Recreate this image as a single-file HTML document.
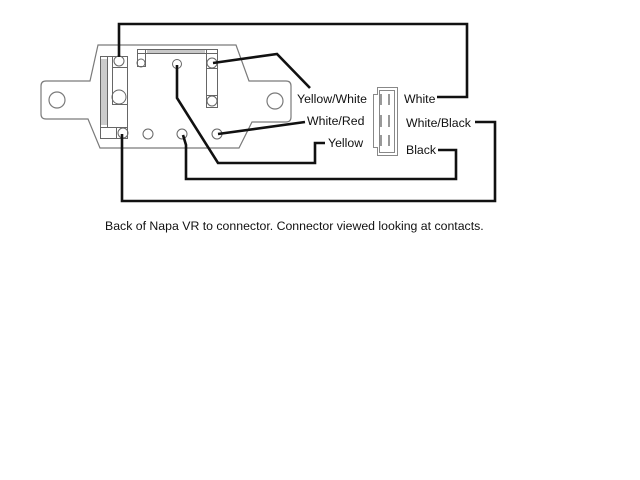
<!DOCTYPE html>
<html><head><meta charset="utf-8"><style>
html,body{margin:0;padding:0;background:#fff;}
svg{display:block;}
text{font-family:"Liberation Sans",Arial,sans-serif;font-size:12.3px;fill:#111;}
</style></head><body>
<svg width="640" height="480" viewBox="0 0 640 480" xmlns="http://www.w3.org/2000/svg">
<rect width="640" height="480" fill="#fff"/>
<!-- plate outline -->
<g fill="none" stroke="#7a7a7a" stroke-width="1.2">
<path d="M98,45 H236 L249,81 H286 Q291,81 291,86 V117 Q291,122 286,122 H252 L239,148 H100 L88,119 H46 Q41,119 41,114 V86 Q41,81 46,81 H90 Z"/>
<circle cx="57" cy="100" r="8"/>
<circle cx="275" cy="101" r="8"/>
</g>
<!-- internal components -->
<g fill="none" stroke="#666" stroke-width="1">
<rect x="100.5" y="56.5" width="27" height="82"/>
<line x1="107.5" y1="56" x2="107.5" y2="127"/>
<rect x="112.5" y="56.5" width="15" height="48"/>
<line x1="112" y1="67.5" x2="128" y2="67.5"/>
<line x1="100" y1="127.5" x2="128" y2="127.5"/>
<line x1="116.5" y1="127" x2="116.5" y2="139"/>
<circle cx="119" cy="61" r="5"/>
<circle cx="119" cy="97" r="7"/>
<circle cx="123" cy="133" r="5"/>
<rect x="137.5" y="49.5" width="80" height="4"/>
<rect x="137.5" y="49.5" width="8" height="17"/>
<circle cx="141" cy="63" r="4"/>
<rect x="206.5" y="49.5" width="11" height="58"/>
<line x1="206" y1="68.5" x2="218" y2="68.5"/>
<line x1="206" y1="95.5" x2="218" y2="95.5"/>
<circle cx="212" cy="63" r="5"/>
<circle cx="212" cy="101" r="5"/>
<circle cx="177" cy="64" r="4.5"/>
<circle cx="148" cy="134" r="5"/>
<circle cx="182" cy="134" r="5"/>
<circle cx="217" cy="134" r="5"/>
</g>
<!-- hatching -->
<g stroke="#777" stroke-width="0.8">
<path d="M101,60H107M101,62H107M101,64H107M101,66H107M101,68H107M101,70H107M101,72H107M101,74H107M101,76H107M101,78H107M101,80H107M101,82H107M101,84H107M101,86H107M101,88H107M101,90H107M101,92H107M101,94H107M101,96H107M101,98H107M101,100H107M101,102H107M101,104H107M101,106H107M101,108H107M101,110H107M101,112H107M101,114H107M101,116H107M101,118H107M101,120H107M101,122H107M101,124H107"/>
<path d="M148,50V53M150,50V53M152,50V53M154,50V53M156,50V53M158,50V53M160,50V53M162,50V53M164,50V53M166,50V53M168,50V53M170,50V53M172,50V53M174,50V53M176,50V53M178,50V53M180,50V53M182,50V53M184,50V53M186,50V53M188,50V53M190,50V53M192,50V53M194,50V53M196,50V53M198,50V53M200,50V53M202,50V53M204,50V53"/>
</g>
<!-- connector -->
<g fill="none" stroke="#888" stroke-width="1">
<path d="M377.5,87.5 H397.5 V155.5 H377.5 V147.5 H373.5 V94.5 H377.5 Z"/>
<rect x="379.5" y="90.5" width="15" height="62"/>
</g>
<g fill="#999">
<rect x="380" y="94" width="2" height="11"/><rect x="388" y="94" width="2" height="11"/>
<rect x="380" y="115" width="2" height="12"/><rect x="388" y="115" width="2" height="12"/>
<rect x="380" y="135" width="2" height="11"/><rect x="388" y="135" width="2" height="11"/>
</g>
<!-- wires -->
<g fill="none" stroke="#111" stroke-width="2.6" stroke-linejoin="miter">
<path d="M119,57 V24 H467 V97 H437"/>
<path d="M213,63 L277,54 L310,88"/>
<path d="M218,134 L305,122"/>
<path d="M177,65 V98 L218,163 H315 V143 H325"/>
<path d="M183,135 L186,145 V179 H456 V150 H438"/>
<path d="M122,134 V201 H495 V122 H475"/>
</g>
<!-- labels -->
<text x="297" y="103">Yellow/White</text>
<text x="307" y="125">White/Red</text>
<text x="328" y="147">Yellow</text>
<text x="404" y="103">White</text>
<text x="406" y="127">White/Black</text>
<text x="406" y="154">Black</text>
<text x="105" y="230">Back of Napa VR to connector. Connector viewed looking at contacts.</text>
</svg>
</body></html>
